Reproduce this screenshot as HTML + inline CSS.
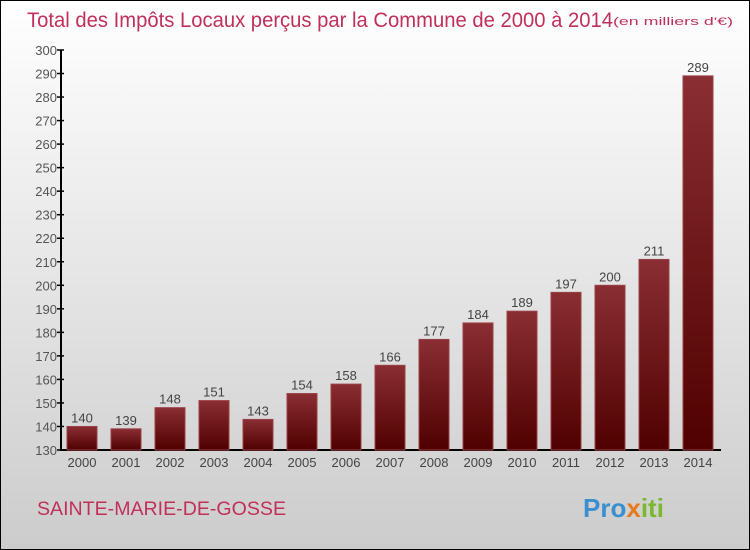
<!DOCTYPE html>
<html><head><meta charset="utf-8"><style>
body{margin:0}
#c{position:relative;width:748px;height:548px;border:1px solid #000;background:linear-gradient(#ffffff,#cccccc);overflow:hidden;font-family:"Liberation Sans",sans-serif}
</style></head><body>
<div id="c">
<svg width="748" height="548" style="position:absolute;left:0;top:0" id="svg">
<defs><linearGradient id="g" x1="0" y1="0" x2="0" y2="1"><stop offset="0" stop-color="#8a2e33"/><stop offset="1" stop-color="#500000"/></linearGradient></defs>
<text x="26" y="26" font-size="21" fill="#c0305a" textLength="586" lengthAdjust="spacingAndGlyphs">Total des Impôts Locaux perçus par la Commune de 2000 à 2014</text>
<text x="612" y="24" font-size="11" fill="#c0305a" textLength="120" lengthAdjust="spacingAndGlyphs">(en milliers d'€)</text>
<text x="36" y="514" font-size="19" fill="#c0305a" textLength="249" lengthAdjust="spacingAndGlyphs">SAINTE-MARIE-DE-GOSSE</text>
<text x="582" y="516" font-size="26" font-weight="bold" fill="#3a8fd0">Pro<tspan fill="#e87a1a">x</tspan><tspan fill="#7ab830">iti</tspan></text>
</svg>
</div>
<script>
const categories=["2000","2001","2002","2003","2004","2005","2006","2007","2008","2009","2010","2011","2012","2013","2014"];
const values=[140,139,148,151,143,154,158,166,177,184,189,197,200,211,289];
const yTicks=[130,140,150,160,170,180,190,200,210,220,230,240,250,260,270,280,290,300];
const svg=document.getElementById('svg');const NS='http://www.w3.org/2000/svg';
const y=v=>449-(v-130)*(400/170);
const x=i=>81+i*44;
function mk(t,a){const e=document.createElementNS(NS,t);for(const k in a)e.setAttribute(k,a[k]);svg.appendChild(e);return e;}
let ax=mk('line',{x1:60,y1:49,x2:60,y2:449,stroke:'#000','stroke-width':2});


let bx=mk('line',{x1:59,y1:449,x2:720,y2:449,stroke:'#000','stroke-width':2});


yTicks.forEach(v=>{
 let l=mk('line',{x1:56,x2:63,y1:y(v),y2:y(v),stroke:'#000','stroke-width':1.5});
 
 
 let t=mk('text',{x:56,y:y(v)+5,'text-anchor':'end','font-size':13,fill:'#555'});t.textContent=v;
 
 
});
values.forEach((v,i)=>{
 let r=mk('rect',{x:x(i)-15,y:y(v),width:30,height:449-y(v),fill:'url(#g)',stroke:'#9a4048','stroke-width':1});
 
 
 let t=mk('text',{x:x(i),y:y(v)-4,'text-anchor':'middle','font-size':13,fill:'#444'});t.textContent=v;
 
 
 let c=mk('text',{x:x(i),y:466,'text-anchor':'middle','font-size':13,fill:'#444'});c.textContent=categories[i];
 
 
});
</script>
</body></html>
